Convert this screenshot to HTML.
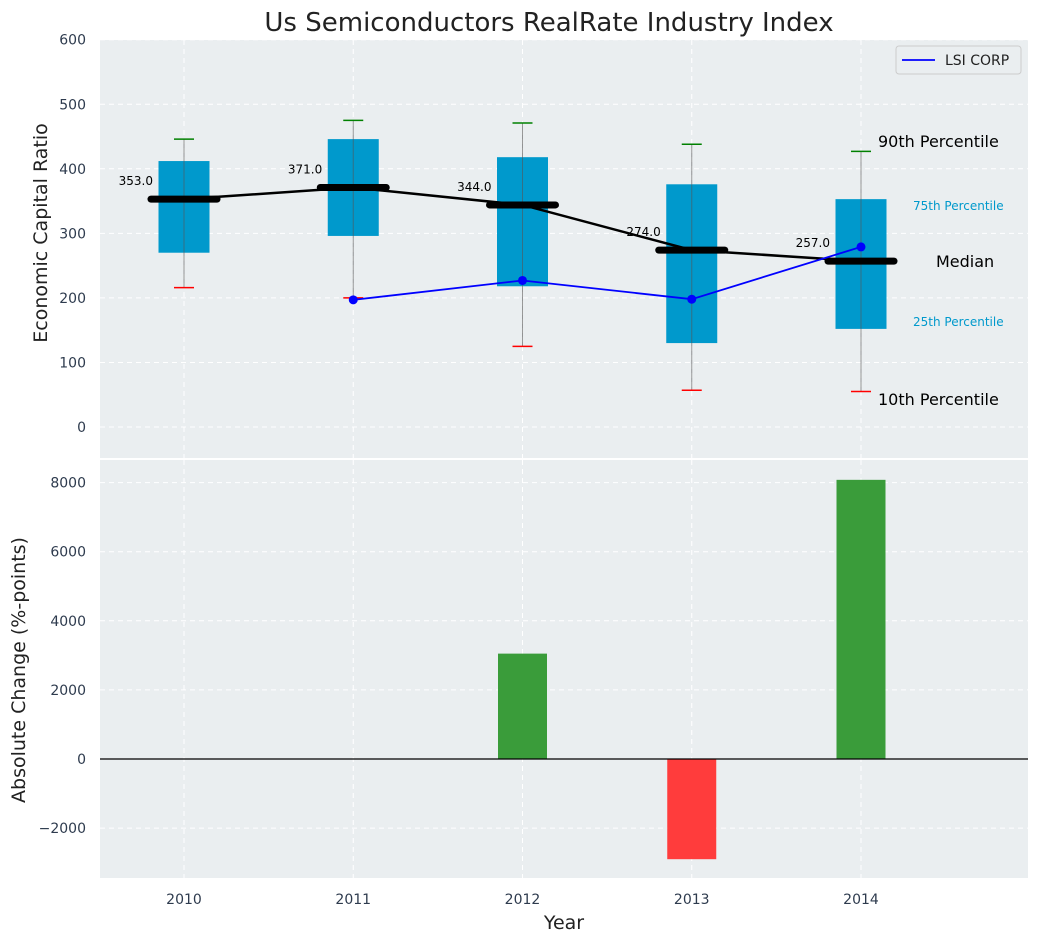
<!DOCTYPE html>
<html><head><meta charset="utf-8"><style>
body{margin:0;background:#fff;}
svg{display:block;font-family:"DejaVu Sans","Liberation Sans",sans-serif;}
</style></head><body>
<svg id="c" width="1039" height="942" xmlns="http://www.w3.org/2000/svg"></svg>
<script>
const years=[2010,2011,2012,2013,2014];
const p10=[216,200,125,57,55];
const p25=[270,296,218,130,152];
const med=[353,371,344,274,257];
const p75=[412,446,418,376,353];
const p90=[446,475,471,438,427];
const lsiYears=[2011,2012,2013,2014];
const lsiVals=[197,227,198,279];
const changes=[0,0,3050,-2900,8080];
const topTicks=[0,100,200,300,400,500,600];
const botTicks=[-2000,0,2000,4000,6000,8000];

const svg=document.getElementById('c');
const NS='http://www.w3.org/2000/svg';
function el(t,a,p){const e=document.createElementNS(NS,t);for(const k in a)e.setAttribute(k,a[k]);(p||svg).appendChild(e);return e;}
const X0=100,X1=1028;
const xs=v=>184+(v-2010)*169.25;
const T0=40,T1=458; const ys=v=>427-v*0.6455;
const B0=460,B1=878; const yb=v=>759-v*0.03455;

let r=el('rect',{x:X0,y:T0,width:X1-X0,height:T1-T0,fill:'#eaeef0'});

r=el('rect',{x:X0,y:B0,width:X1-X0,height:B1-B0,fill:'#eaeef0'});

topTicks.forEach(t=>{el('line',{x1:X0,x2:X1,y1:ys(t),y2:ys(t),stroke:'#fff','stroke-dasharray':'5,4','stroke-width':1});
 const tx=el('text',{x:86,y:ys(t)+5,'text-anchor':'end','font-size':14,fill:'#2e3b4e'});tx.textContent=t;
 });
botTicks.forEach(t=>{el('line',{x1:X0,x2:X1,y1:yb(t),y2:yb(t),stroke:'#fff','stroke-dasharray':'5,4','stroke-width':1});
 const tx=el('text',{x:86,y:yb(t)+5,'text-anchor':'end','font-size':14,fill:'#2e3b4e'});tx.textContent=t<0?'\u2212'+(-t):t;
 });
years.forEach(y=>{el('line',{x1:xs(y),x2:xs(y),y1:T0,y2:T1,stroke:'#fff','stroke-dasharray':'5,4'});
 el('line',{x1:xs(y),x2:xs(y),y1:B0,y2:B1,stroke:'#fff','stroke-dasharray':'5,4'});
 const tx=el('text',{x:xs(y),y:904,'text-anchor':'middle','font-size':14,fill:'#2e3b4e'});tx.textContent=y;
 });

const bw=51;
years.forEach((y,i)=>{const cx=xs(y);
 const b=el('rect',{x:cx-bw/2,y:ys(p75[i]),width:bw,height:ys(p25[i])-ys(p75[i]),fill:'#0099cc'});
 
 el('line',{x1:cx,x2:cx,y1:ys(p10[i]),y2:ys(p90[i]),stroke:'#555','stroke-opacity':0.6,'stroke-width':1});
 el('line',{x1:cx-10,x2:cx+10,y1:ys(p90[i]),y2:ys(p90[i]),stroke:'green','stroke-width':1.5});
 el('line',{x1:cx-10,x2:cx+10,y1:ys(p10[i]),y2:ys(p10[i]),stroke:'red','stroke-width':1.5});
});
el('polyline',{points:years.map((y,i)=>xs(y)+','+ys(med[i])).join(' '),fill:'none',stroke:'#000','stroke-width':2.5});
years.forEach((y,i)=>{const cx=xs(y);
 const m=el('line',{x1:cx-33,x2:cx+33,y1:ys(med[i]),y2:ys(med[i]),stroke:'#000','stroke-width':7,'stroke-linecap':'round'});
 
 const t=el('text',{x:cx-31,y:ys(med[i])-14,'text-anchor':'end','font-size':12,fill:'#000'});t.textContent=med[i].toFixed(1);
 
});
const lp=el('polyline',{points:lsiYears.map((y,i)=>xs(y)+','+ys(lsiVals[i])).join(' '),fill:'none',stroke:'blue','stroke-width':1.8});

lsiYears.forEach((y,i)=>{const c=el('circle',{cx:xs(y),cy:ys(lsiVals[i]),r:4.5,fill:'blue'});
 });
const lx=xs(2014);
[['90th Percentile',147,17,16,'#000'],['75th Percentile',210,52,12,'#0099cc'],['Median',267,75,16,'#000'],['25th Percentile',326,52,12,'#0099cc'],['10th Percentile',405,17,16,'#000']].forEach(a=>{
 const t=el('text',{x:lx+a[2],y:a[1],'font-size':a[3],fill:a[4]});t.textContent=a[0];
 });
const lg=el('g',{});
el('rect',{x:896,y:46,width:125,height:28,rx:3,fill:'#eaeef0',stroke:'#ccc'},lg);
el('line',{x1:902,x2:935,y1:60,y2:60,stroke:'blue','stroke-width':1.8},lg);
let t=el('text',{x:945,y:65,'font-size':14,fill:'#222'},lg);t.textContent='LSI CORP';
const bbw=49;
years.forEach((y,i)=>{if(!changes[i])return;const v=changes[i];
 const b=el('rect',{x:xs(y)-bbw/2,y:Math.min(yb(v),yb(0)),width:bbw,height:Math.abs(yb(v)-yb(0)),fill:v>0?'#3a9c3a':'#ff3c3c'});
 });
el('line',{x1:X0,x2:X1,y1:yb(0),y2:yb(0),stroke:'#000','stroke-width':1.2});
t=el('text',{x:549,y:31,'text-anchor':'middle','font-size':26,fill:'#222'});t.textContent='Us Semiconductors RealRate Industry Index';

t=el('text',{x:564,y:929,'text-anchor':'middle','font-size':19,fill:'#222'});t.textContent='Year';

t=el('text',{x:0,y:0,'text-anchor':'middle','font-size':19,fill:'#222',transform:'translate(47,233) rotate(-90)'});t.textContent='Economic Capital Ratio';

t=el('text',{x:0,y:0,'text-anchor':'middle','font-size':19,fill:'#222',transform:'translate(25,670) rotate(-90)'});t.textContent='Absolute Change (%-points)';

</script>
</body></html>
